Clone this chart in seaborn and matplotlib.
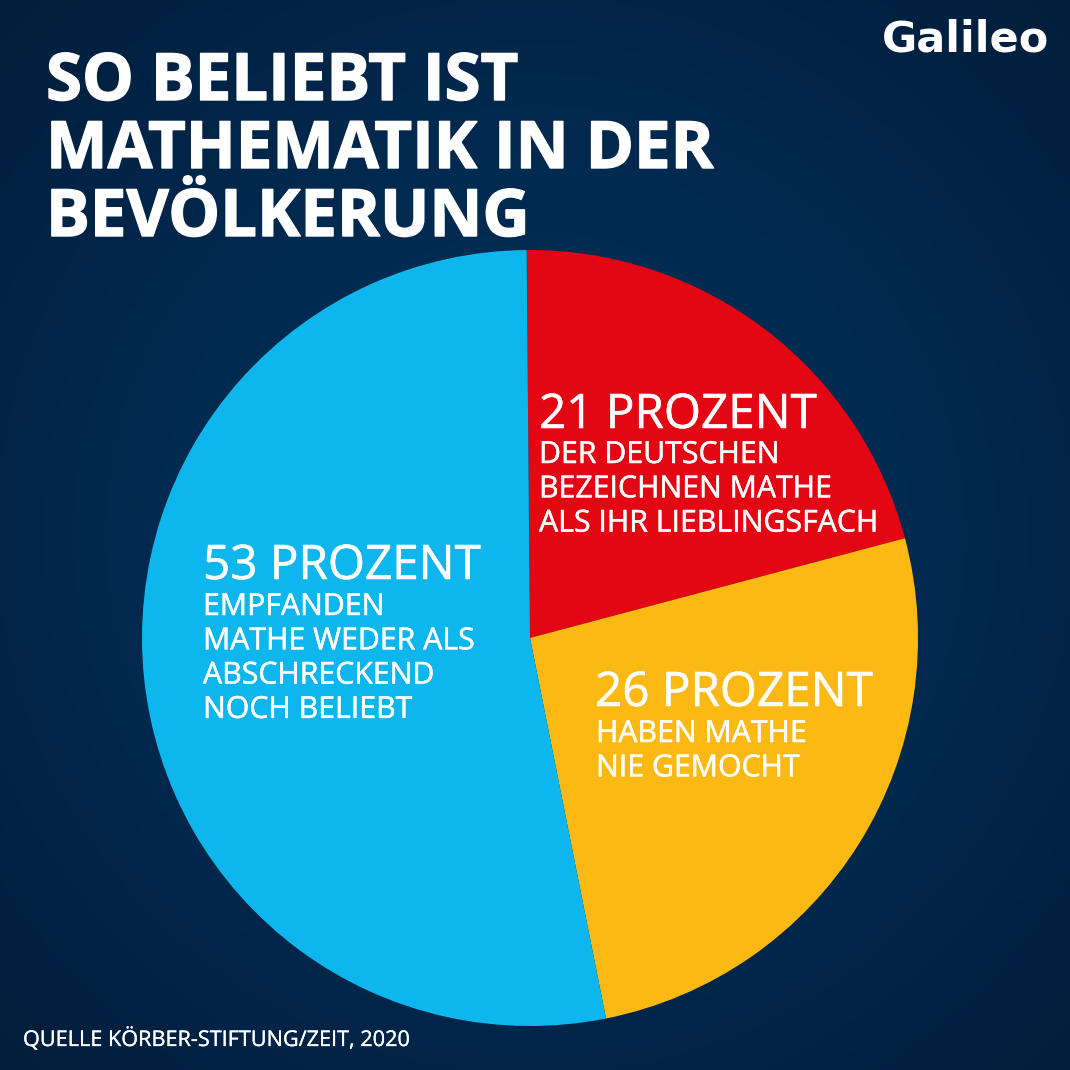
import numpy as np
import pandas as pd
import matplotlib
matplotlib.use('Agg')
import matplotlib.pyplot as plt
import seaborn as sns
from matplotlib import patheffects

# Values
categories = ['Lieblingsfach', 'Nie gemocht', 'Weder noch']
shares = [21, 26, 53]
colors = ['#E30613', '#FDB913', '#0DB7EE']
headlines = ['21 PROZENT', '26 PROZENT', '53 PROZENT']
details = [
    'DER DEUTSCHEN\nBEZEICHNEN MATHE\nALS IHR LIEBLINGSFACH',
    'HABEN MATHE\nNIE GEMOCHT',
    'EMPFANDEN\nMATHE WEDER ALS\nABSCHRECKEND\nNOCH BELIEBT',
]
title_lines = ['SO BELIEBT IST', 'MATHEMATIK IN DER', 'BEVÖLKERUNG']
source = 'QUELLE KÖRBER-STIFTUNG/ZEIT, 2020'
logo = 'Galileo'

sns.set_theme(style='white')
plt.rcParams['font.family'] = ['Open Sans', 'DejaVu Sans']

df = pd.DataFrame({'category': categories, 'share': shares})

fig = plt.figure(figsize=(10.7, 10.7), dpi=100)

# Dark blue radial background
bg = fig.add_axes([0, 0, 1, 1], zorder=0)
yy, xx = np.mgrid[0:1:300j, 0:1:300j]
r = np.sqrt((xx - 0.5) ** 2 + (yy - 0.5) ** 2) / 0.707
cmap = matplotlib.colors.LinearSegmentedColormap.from_list('bg', ['#022F57', '#012A50', '#021D3B'])
bg.imshow(r, cmap=cmap, extent=[0, 1, 0, 1], aspect='auto', vmin=0, vmax=1)
bg.axis('off')

# Pie circle centre about (530, 638), radius about 388 px
size = 2 * 388 / 1070
ax = fig.add_axes([530 / 1070 - size / 2, 1 - 638 / 1070 - size / 2, size, size], zorder=1)
ax.pie(df['share'], colors=colors, startangle=90.5, counterclock=False, radius=1,
       wedgeprops={'linewidth': 0, 'edgecolor': 'none'})
ax.set_xlim(-1, 1)
ax.set_ylim(-1, 1)

def put(x, y, s, stroke=0, **kw):
    t = fig.text(x / 1070, 1 - y / 1070, s, color='white', zorder=5, va='baseline', **kw)
    if stroke:
        t.set_path_effects([patheffects.withStroke(linewidth=stroke, foreground='white')])
    return t

# Title
for line, y in zip(title_lines, [100, 168, 236]):
    put(46, y, line, fontsize=47, fontweight='bold', stroke=1.0)

# Slice labels
head_pos = [(539, 428), (595, 706), (203, 579)]
text_pos = [(539, 463), (596, 742), (203, 615)]
for i in range(3):
    put(head_pos[i][0], head_pos[i][1], headlines[i], fontsize=34.3, stroke=0.4)
    for j, line in enumerate(details[i].split('\n')):
        put(text_pos[i][0], text_pos[i][1] + j * 34.3, line, fontsize=21.8, stroke=0.35)

put(23, 1046, source, fontsize=15.6, stroke=0.2)
put(882, 52, logo, fontsize=31, family=['DejaVu Sans'], fontweight='bold')

fig.savefig('out.png', dpi=100)
